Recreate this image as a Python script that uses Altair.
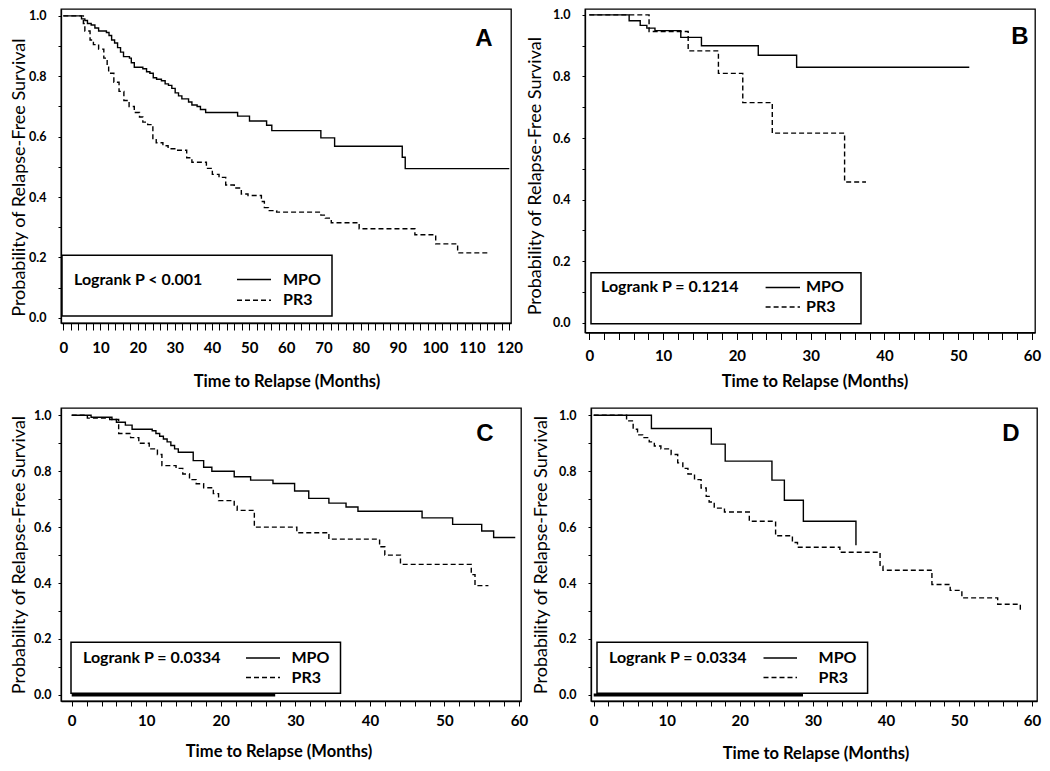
import altair as alt
import pandas as pd

# ---------------- data ----------------
GROUPS = ["MPO", "PR3"]

# Panel A
a_mpo_t = [0, 4.9, 5.8, 6.5, 7.5, 8.5, 9.5, 11.6, 12.3, 13.0, 13.8, 14.6, 15.4, 16.2, 17.8, 18.3, 19.1,
           21.4, 22.4, 23.3, 24.2, 25.1, 26.4, 27.4, 28.3, 29.2, 30.1, 31.0, 31.9, 33.7, 34.6, 36.0, 36.9,
           38.3, 46.9, 50.1, 54.7, 56.1, 69.3, 73.0, 91.2, 92.0, 120]
a_mpo_s = [1.0, 0.99, 0.985, 0.975, 0.97, 0.96, 0.95, 0.945, 0.935, 0.92, 0.91, 0.895, 0.88, 0.865, 0.86,
           0.845, 0.83, 0.825, 0.815, 0.81, 0.795, 0.79, 0.785, 0.775, 0.77, 0.76, 0.745, 0.735, 0.725,
           0.715, 0.705, 0.70, 0.69, 0.68, 0.668, 0.652, 0.638, 0.62, 0.596, 0.568, 0.532, 0.494, 0.494]
a_pr3_t = [0, 5.4, 5.8, 7.2, 8.1, 9.5, 10.9, 11.8, 12.2, 13.6, 15.0, 16.3, 17.7, 19.1, 20.5, 21.4, 22.7,
           24.1, 25.0, 26.8, 28.2, 30.0, 33.2, 34.6, 38.5, 40.1, 41.9, 43.7, 46.0, 47.9, 49.7, 53.3, 54.1,
           55.2, 57.4, 58.8, 69.3, 70.5, 72.1, 79.6, 94.6, 100.2, 106.1, 114.5]
a_pr3_s = [1.0, 0.975, 0.95, 0.92, 0.905, 0.89, 0.86, 0.83, 0.81, 0.78, 0.75, 0.72, 0.70, 0.68, 0.665,
           0.648, 0.64, 0.59, 0.58, 0.57, 0.56, 0.555, 0.53, 0.515, 0.495, 0.475, 0.465, 0.44, 0.43, 0.41,
           0.405, 0.385, 0.365, 0.355, 0.35, 0.35, 0.34, 0.33, 0.315, 0.295, 0.275, 0.245, 0.215, 0.215]

# Panel B
b_mpo_t = [0, 5.4, 6.9, 7.8, 8.9, 12.4, 15.2, 22.9, 28.1, 51.5]
b_mpo_s = [1.0, 0.981, 0.966, 0.957, 0.949, 0.927, 0.90, 0.869, 0.83, 0.83]
b_pr3_t = [0, 8.1, 13.4, 17.5, 20.8, 24.8, 34.6, 37.5]
b_pr3_s = [1.0, 0.946, 0.883, 0.81, 0.715, 0.616, 0.457, 0.457]

# Panel C
c_mpo_t = [0, 2.6, 5.4, 6.0, 7.2, 8.1, 10.8, 11.3, 11.8, 12.3, 12.8, 13.3, 13.8, 14.3, 16.3, 17.7, 18.8,
           21.8, 24.0, 27.0, 29.9, 31.8, 34.5, 36.8, 38.4, 47.0, 51.1, 55.0, 56.6, 59.5]
c_mpo_s = [1.0, 0.993, 0.985, 0.975, 0.965, 0.95, 0.945, 0.935, 0.925, 0.915, 0.905, 0.892, 0.88, 0.868,
           0.838, 0.814, 0.80, 0.78, 0.768, 0.756, 0.729, 0.703, 0.686, 0.672, 0.657, 0.633, 0.61, 0.586,
           0.563, 0.563]
c_pr3_t = [0, 2.1, 5.1, 6.3, 7.9, 9.0, 10.4, 11.5, 12.1, 14.0, 14.9, 15.8, 16.7, 17.7, 19.0, 19.7, 21.8,
           22.2, 24.5, 30.2, 34.5, 41.3, 42.0, 44.1, 53.6, 54.1, 55.9]
c_pr3_s = [1.0, 0.99, 0.985, 0.935, 0.92, 0.90, 0.88, 0.86, 0.82, 0.81, 0.79, 0.77, 0.755, 0.741, 0.72,
           0.695, 0.675, 0.66, 0.60, 0.58, 0.557, 0.53, 0.50, 0.467, 0.43, 0.391, 0.391]

# Panel D
d_mpo_t = [0, 7.9, 16.1, 18.0, 24.4, 26.1, 28.7, 35.9]
d_mpo_s = [1.0, 0.953, 0.897, 0.836, 0.768, 0.696, 0.621, 0.535]
d_pr3_t = [0, 4.5, 5.4, 6.0, 6.7, 7.6, 8.3, 9.2, 10.6, 11.5, 12.2, 12.9, 13.8, 14.7, 15.4, 15.8, 16.5,
           17.9, 21.3, 24.9, 27.2, 27.9, 33.7, 39.2, 39.6, 46.3, 48.8, 50.4, 55.3, 58.4]
d_pr3_s = [1.0, 0.98, 0.95, 0.93, 0.92, 0.905, 0.89, 0.88, 0.86, 0.83, 0.81, 0.79, 0.77, 0.74, 0.71,
           0.69, 0.668, 0.654, 0.621, 0.569, 0.545, 0.528, 0.51, 0.46, 0.446, 0.395, 0.374, 0.347, 0.324,
           0.30]

# tick values
x_ticks_120 = list(range(0, 121, 2))
x_ticks_60 = list(range(0, 61, 2))
y_ticks = [0.0, 0.1, 0.2, 0.3, 0.4, 0.5, 0.6, 0.7, 0.8, 0.9, 1.0]

# texts
panel_letters = ["A", "B", "C", "D"]
logrank_texts = ["Logrank P < 0.001", "Logrank P = 0.1214", "Logrank P = 0.0334", "Logrank P = 0.0334"]
y_title = "Probability of Relapse-Free Survival"
x_title = "Time to Relapse (Months)"

FONT = "Lato"


def km_frame(t1, s1, t2, s2):
    return pd.DataFrame({
        "t": t1 + t2,
        "s": s1 + s2,
        "g": [GROUPS[0]] * len(t1) + [GROUPS[1]] * len(t2),
    })


def panel(df, letter, logrank, p):
    one = pd.DataFrame({"k": [0]})
    x_axis = alt.Axis(
        values=p["xticks"],
        labelExpr="datum.value % 10 == 0 ? datum.value : ''",
        tickSize=p["xtick"], tickColor="black", tickWidth=1,
        domainColor="black", domainWidth=1.3,
        labelFont=FONT, labelFontSize=15, labelFontWeight="bold", labelColor="black",
        labelPadding=p["xlabpad"], labelFlush=False, labelOverlap=False,
        grid=False, title=None,
    )
    y_axis = alt.Axis(
        values=y_ticks,
        labelExpr="round(datum.value*10) % 2 == 0 ? format(datum.value, '.1f') : ''",
        tickSize=3, tickColor="black", tickWidth=1,
        domainColor="black", domainWidth=1.3,
        labelFont=FONT, labelFontSize=12.5, labelFontWeight="bold", labelColor="black",
        labelPadding=p.get("ylabpad", 12), labelFlush=False, labelOverlap=False,
        grid=False, title=None,
    )
    xs = alt.Scale(domain=p["xdom"], nice=False, zero=False)
    ys = alt.Scale(domain=p["ydom"], nice=False, zero=False)

    curves = alt.Chart(df).mark_line(interpolate="step-after", color="black", strokeWidth=1.4).encode(
        x=alt.X("t:Q", scale=xs, axis=x_axis),
        y=alt.Y("s:Q", scale=ys, axis=y_axis),
        strokeDash=alt.StrokeDash("g:N", scale=alt.Scale(domain=GROUPS, range=[[1, 0], [5, 3]]), legend=None),
    )

    # axis titles
    ytl = alt.Chart(one).mark_text(text=y_title, font=FONT, fontSize=18, color="black", angle=270,
                                   align="center", baseline="middle").encode(
        x=alt.value(p["ytx"]), y=alt.value(p["yty"]))
    xtl = alt.Chart(one).mark_text(text=x_title, font=FONT, fontSize=16.5, fontWeight="bold", color="black",
                                   align="center", baseline="middle").encode(
        x=alt.value(p["xtx"]), y=alt.value(p["h"] + p["xty"]))

    L = p["leg"]
    box = alt.Chart(one).mark_rect(fill="white", stroke="black", strokeWidth=1.5).encode(
        x=alt.value(L["x0"]), x2=alt.value(L["x1"]), y=alt.value(L["y0"]), y2=alt.value(L["y1"]))
    txt_style = dict(font=FONT, fontSize=16, fontWeight="bold", color="black", align="left", baseline="middle")
    lr = alt.Chart(one).mark_text(text=logrank, **txt_style).encode(x=alt.value(L["tx"]), y=alt.value(L["r1"]))
    l_mpo = alt.Chart(one).mark_text(text=GROUPS[0], **txt_style).encode(x=alt.value(L["lx"]), y=alt.value(L["r1"]))
    l_pr3 = alt.Chart(one).mark_text(text=GROUPS[1], **txt_style).encode(x=alt.value(L["lx"]), y=alt.value(L["r2"]))
    s_mpo = alt.Chart(one).mark_rule(color="black", strokeWidth=1.5).encode(
        x=alt.value(L["sx0"]), x2=alt.value(L["sx1"]), y=alt.value(L["r1"]))
    s_pr3 = alt.Chart(one).mark_rule(color="black", strokeWidth=1.5, strokeDash=[5, 3]).encode(
        x=alt.value(L["sx0"]), x2=alt.value(L["sx1"]), y=alt.value(L["r2"]))
    let = alt.Chart(one).mark_text(text=letter, font="Liberation Sans", fontSize=24, fontWeight="bold",
                                   color="black", align="center", baseline="middle").encode(
        x=alt.value(p["letter"][0]), y=alt.value(p["letter"][1]))

    layers = [box]
    if p.get("thick") is not None:
        tk = p["thick"]
        layers.append(alt.Chart(one).mark_rule(color="black", strokeWidth=3).encode(
            x=alt.value(tk[0]), x2=alt.value(tk[1]), y=alt.value(tk[2])))
    layers += [curves, s_mpo, s_pr3, lr, l_mpo, l_pr3, let, ytl, xtl]
    return alt.layer(*layers).properties(width=p["w"], height=p["h"])


PA = dict(xdom=[-0.62, 120.46], ydom=[-0.01722, 1.02286], w=450, h=314, xticks=x_ticks_120, xtick=7,
          xlabpad=10.5, xtx=226, xty=58.6, ytx=-41, yty=168.6,
          leg=dict(x0=1, x1=271, y0=246.2, y1=307, tx=13, r1=270.6, r2=291.2, sx0=176, sx1=210, lx=222),
          letter=(423, 29.9))
PB = dict(xdom=[-0.583, 60.407], ydom=[-0.03184, 1.01917], w=450, h=323.5, xticks=x_ticks_60, xtick=7,
          xlabpad=9.2, xtx=230, xty=49.1, ytx=-48.7, yty=167.2,
          leg=dict(x0=6, x1=276, y0=263.7, y1=314.7, tx=16, r1=278.4, r2=298, sx0=180.6, sx1=215, lx=221),
          letter=(435, 27.9))
PC = dict(xdom=[-1.435, 60.27], ydom=[-0.02182, 1.02611], w=460, h=293, xticks=x_ticks_60, xtick=5,
          xlabpad=7.9, ylabpad=7, xtx=218, xty=51.1, ytx=-41, yty=147, thick=(10.7, 214.2, 286.9),
          leg=dict(x0=10, x1=279.5, y0=234.3, y1=285.3, tx=22, r1=250, r2=269.6, sx0=185, sx1=219, lx=230.5),
          letter=(424, 26.4))
PD = dict(xdom=[-0.37, 60.684], ydom=[-0.02182, 1.02611], w=446, h=293, xticks=x_ticks_60, xtick=5,
          xlabpad=7.9, xtx=225, xty=53, ytx=-49.3, yty=147, thick=(2.7, 212, 286.9),
          leg=dict(x0=6, x1=276.6, y0=234.3, y1=285.3, tx=18, r1=250, r2=269.6, sx0=172.5, sx1=206, lx=227.6),
          letter=(420, 26.4))

A = panel(km_frame(a_mpo_t, a_mpo_s, a_pr3_t, a_pr3_s), panel_letters[0], logrank_texts[0], PA)
B = panel(km_frame(b_mpo_t, b_mpo_s, b_pr3_t, b_pr3_s), panel_letters[1], logrank_texts[1], PB)
C = panel(km_frame(c_mpo_t, c_mpo_s, c_pr3_t, c_pr3_s), panel_letters[2], logrank_texts[2], PC)
D = panel(km_frame(d_mpo_t, d_mpo_s, d_pr3_t, d_pr3_s), panel_letters[3], logrank_texts[3], PD)

chart = alt.vconcat(
    alt.hconcat(A, B, spacing=3),
    alt.hconcat(C, D, spacing=3),
    spacing=16,
).properties(
    padding={"left": 2, "top": 0, "right": 0, "bottom": 0}, background="white"
).configure_view(stroke="black", strokeWidth=1.3)

chart.save("out.html", embed_options={"renderer": "svg", "actions": False})
